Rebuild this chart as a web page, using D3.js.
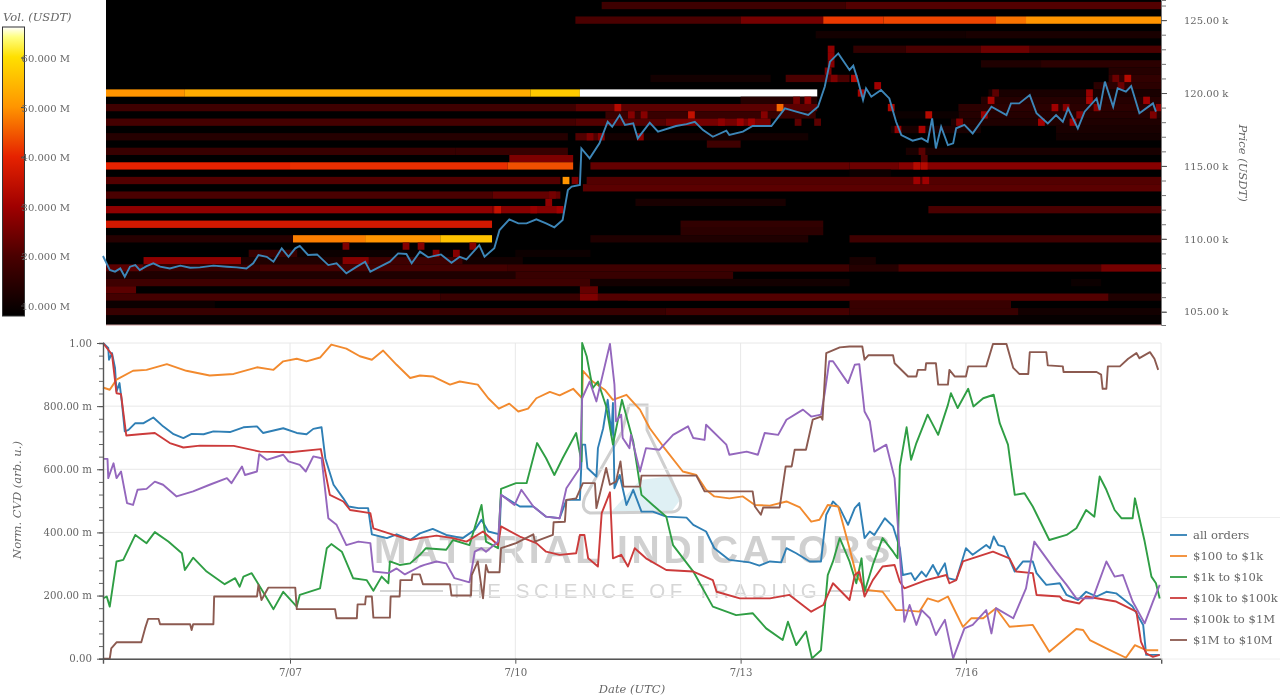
<!DOCTYPE html>
<html><head><meta charset="utf-8">
<script src="https://cdnjs.cloudflare.com/ajax/libs/d3/7.8.5/d3.min.js"></script>
<style>html,body{margin:0;padding:0;background:#fff;overflow:hidden}svg{display:block;filter:blur(0.75px)}text{font-family:"DejaVu Serif",serif}</style>
</head><body><svg id="c" width="1280" height="695"></svg>
<script>
const seriesNames = ["all orders","$100 to $1k","$1k to $10k","$10k to $100k","$100k to $1M","$1M to $10M"];
const seriesColors = ["#2f7fb5","#f28a2e","#2f9e44","#cc3b3b","#9467bd","#8c5a50"];
const dayTicks = [7,10,13,16];
const dayTickLabels = ["7/07","7/10","7/13","7/16"];
const cvdMajor = [0,200,400,600,800,1000];
const cvdTickLabels = ["0.00","200.00 m","400.00 m","600.00 m","800.00 m","1.00"];
const priceMajor = [105,110,115,120,125];
const priceTickLabels = ["105.00 k","110.00 k","115.00 k","120.00 k","125.00 k"];
const volTicks = [10,20,30,40,50,60];
const volTickLabels = ["10.000 M","20.000 M","30.000 M","40.000 M","50.000 M","60.000 M"];

const allOrders = [[4.51,1000],[4.58,984],[4.59,947],[4.63,968],[4.67,921],[4.69,847],[4.73,873],[4.76,815],[4.80,720],[4.85,725],[4.94,746],[5.05,746],[5.18,764],[5.31,736],[5.45,711],[5.58,699],[5.69,712],[5.85,711],[5.98,720],[6.20,718],[6.38,733],[6.56,736],[6.64,715],[6.91,730],[7.09,715],[7.22,711],[7.31,728],[7.42,733],[7.47,635],[7.51,604],[7.58,551],[7.71,508],[7.78,482],[7.91,477],[8.04,477],[8.09,394],[8.29,382],[8.42,394],[8.60,376],[8.73,397],[8.90,411],[9.08,392],[9.30,382],[9.46,408],[9.55,440],[9.64,403],[9.79,394],[9.81,519],[10.06,482],[10.24,482],[10.41,450],[10.59,445],[10.68,503],[10.86,503],[10.89,678],[10.93,678],[10.96,604],[11.08,577],[11.10,667],[11.17,730],[11.23,820],[11.28,709],[11.30,810],[11.32,540],[11.39,582],[11.48,487],[11.57,535],[11.68,466],[11.83,466],[12.01,450],[12.28,447],[12.37,424],[12.54,403],[12.65,350],[12.85,313],[13.12,305],[13.25,295],[13.39,308],[13.54,305],[13.61,350],[13.74,334],[13.92,308],[14.07,308],[14.14,456],[14.23,498],[14.32,477],[14.43,424],[14.52,477],[14.58,493],[14.65,382],[14.72,403],[14.78,392],[14.92,445],[15.03,419],[15.12,350],[15.16,265],[15.27,271],[15.32,249],[15.41,276],[15.47,260],[15.56,297],[15.63,265],[15.72,302],[15.76,255],[15.87,249],[16.00,350],[16.09,329],[16.27,360],[16.32,350],[16.37,387],[16.43,360],[16.51,355],[16.65,276],[16.76,308],[16.89,308],[16.94,271],[17.07,234],[17.25,239],[17.34,202],[17.49,186],[17.60,212],[17.74,197],[17.87,212],[18.00,207],[18.22,165],[18.36,107],[18.40,12],[18.58,12]];
const orders100to1k = [[4.51,859],[4.60,852],[4.69,884],[4.91,912],[5.09,915],[5.36,933],[5.62,912],[5.93,897],[6.25,902],[6.56,923],[6.78,915],[6.91,942],[7.09,950],[7.22,942],[7.40,954],[7.55,995],[7.75,982],[7.93,958],[8.09,947],[8.24,976],[8.42,931],[8.60,889],[8.73,897],[8.90,894],[9.13,868],[9.26,878],[9.50,868],[9.64,825],[9.78,792],[9.92,808],[10.04,783],[10.17,792],[10.28,825],[10.46,845],[10.59,834],[10.77,855],[10.89,825],[10.90,912],[11.03,878],[11.19,852],[11.30,820],[11.48,836],[11.66,789],[11.79,730],[11.97,672],[12.23,593],[12.41,582],[12.54,535],[12.65,514],[12.85,508],[13.03,514],[13.19,487],[13.39,485],[13.61,498],[13.79,479],[13.94,434],[14.05,440],[14.16,487],[14.30,482],[14.45,350],[14.54,265],[14.67,218],[14.89,212],[15.07,154],[15.16,154],[15.38,149],[15.49,191],[15.63,181],[15.76,197],[15.96,101],[16.07,128],[16.23,128],[16.40,160],[16.58,101],[16.89,107],[17.11,22],[17.47,94],[17.56,91],[17.65,59],[17.87,33],[18.13,3],[18.25,43],[18.40,27],[18.56,27]];
const orders1kto10k = [[4.51,191],[4.56,197],[4.60,165],[4.69,308],[4.78,313],[4.94,392],[5.09,366],[5.20,401],[5.38,371],[5.56,334],[5.60,281],[5.71,320],[5.89,276],[6.13,236],[6.27,255],[6.33,228],[6.38,260],[6.49,271],[6.64,212],[6.78,157],[6.91,212],[7.09,165],[7.13,202],[7.40,223],[7.49,350],[7.55,363],[7.69,339],[7.84,255],[8.02,249],[8.11,215],[8.22,260],[8.31,239],[8.33,308],[8.46,297],[8.60,302],[8.73,329],[8.81,350],[9.08,345],[9.17,376],[9.39,360],[9.55,487],[9.61,371],[9.77,350],[9.81,538],[10.01,556],[10.15,556],[10.29,683],[10.41,635],[10.52,582],[10.63,635],[10.81,715],[10.88,625],[10.89,1000],[10.95,958],[11.03,857],[11.10,878],[11.21,799],[11.30,678],[11.42,820],[11.57,688],[11.68,519],[11.83,487],[12.01,450],[12.10,360],[12.37,276],[12.63,165],[12.94,138],[13.16,144],[13.34,96],[13.56,59],[13.63,117],[13.74,43],[13.87,86],[13.95,1],[14.07,27],[14.16,265],[14.23,308],[14.32,382],[14.45,308],[14.54,239],[14.61,318],[14.65,212],[14.76,297],[14.89,382],[15.03,339],[15.09,318],[15.12,609],[15.21,733],[15.27,630],[15.34,683],[15.49,773],[15.63,709],[15.76,804],[15.80,841],[15.89,794],[16.03,855],[16.10,799],[16.23,825],[16.37,836],[16.45,746],[16.56,678],[16.65,519],[16.78,524],[16.89,482],[17.11,376],[17.34,392],[17.47,413],[17.60,471],[17.71,450],[17.78,577],[17.87,535],[17.98,471],[18.07,445],[18.22,445],[18.25,508],[18.38,371],[18.47,260],[18.53,239],[18.58,191]];
const orders10kto100k = [[4.51,1000],[4.63,963],[4.69,841],[4.75,838],[4.82,707],[5.00,711],[5.20,715],[5.40,683],[5.58,669],[5.80,675],[6.25,674],[6.60,656],[7.00,654],[7.41,664],[7.53,519],[7.71,498],[7.80,471],[8.07,461],[8.11,413],[8.38,392],[8.60,376],[8.73,382],[8.95,390],[9.17,382],[9.35,371],[9.57,403],[9.77,360],[9.81,419],[10.06,387],[10.28,366],[10.41,339],[10.59,329],[10.81,334],[10.86,392],[10.92,392],[10.97,318],[11.10,292],[11.15,461],[11.26,527],[11.30,318],[11.41,329],[11.50,292],[11.59,350],[11.74,318],[12.01,281],[12.37,276],[12.63,249],[12.68,212],[12.99,191],[13.39,191],[13.65,202],[13.94,149],[14.10,170],[14.23,239],[14.45,186],[14.52,265],[14.58,276],[14.65,197],[14.76,249],[14.89,292],[15.05,297],[15.12,244],[15.18,223],[15.47,249],[15.74,265],[15.78,239],[15.87,249],[15.96,308],[16.36,339],[16.58,318],[16.67,276],[16.89,271],[16.94,202],[17.25,197],[17.29,186],[17.51,175],[17.60,197],[18.00,181],[18.27,149],[18.33,54],[18.40,17],[18.49,6],[18.58,12]];
const orders100kto1M = [[4.51,633],[4.57,633],[4.58,572],[4.65,619],[4.69,572],[4.75,593],[4.83,493],[4.91,487],[4.97,535],[5.09,538],[5.20,561],[5.31,551],[5.49,514],[5.71,530],[5.93,551],[6.16,572],[6.22,556],[6.36,609],[6.40,582],[6.56,593],[6.59,648],[6.69,630],[6.91,646],[6.98,625],[7.13,614],[7.21,593],[7.31,641],[7.42,635],[7.51,445],[7.62,424],[7.75,360],[7.91,371],[8.07,366],[8.11,276],[8.31,271],[8.42,286],[8.53,267],[8.73,292],[8.79,297],[8.95,308],[9.08,302],[9.19,255],[9.39,242],[9.46,339],[9.55,350],[9.61,339],[9.77,371],[9.81,519],[9.99,487],[10.08,535],[10.24,482],[10.41,450],[10.59,445],[10.68,540],[10.86,604],[10.89,825],[10.99,878],[11.08,815],[11.26,997],[11.32,868],[11.34,752],[11.41,773],[11.43,699],[11.52,667],[11.54,709],[11.66,593],[11.74,667],[11.92,662],[12.10,709],[12.30,736],[12.37,699],[12.52,693],[12.54,741],[12.81,678],[12.85,646],[13.08,656],[13.23,646],[13.32,715],[13.50,709],[13.61,757],[13.83,789],[13.94,767],[14.07,773],[14.12,841],[14.18,942],[14.23,942],[14.43,873],[14.52,931],[14.58,933],[14.65,783],[14.72,752],[14.78,656],[14.94,678],[15.05,572],[15.09,434],[15.18,117],[15.25,170],[15.34,107],[15.41,154],[15.52,128],[15.60,75],[15.72,123],[15.83,1],[15.98,96],[16.09,107],[16.27,154],[16.34,80],[16.40,160],[16.63,128],[16.80,223],[16.91,371],[17.20,276],[17.34,234],[17.47,191],[17.69,191],[17.87,308],[17.98,260],[18.09,265],[18.22,181],[18.38,112],[18.49,181],[18.58,234]];
const orders1Mto10M = [[4.51,0],[4.60,0],[4.62,33],[4.69,52],[5.02,52],[5.07,96],[5.11,126],[5.25,126],[5.27,109],[5.67,109],[5.69,91],[5.71,109],[5.98,109],[5.99,197],[6.56,197],[6.58,234],[6.62,186],[6.71,225],[7.07,225],[7.09,157],[7.60,157],[7.62,128],[7.89,128],[7.90,172],[8.00,172],[8.01,197],[8.09,197],[8.11,130],[8.33,130],[8.34,197],[8.46,197],[8.47,249],[8.62,249],[8.63,267],[8.73,267],[8.77,236],[9.13,236],[9.15,200],[9.41,200],[9.42,265],[9.50,308],[9.57,191],[9.61,297],[9.64,274],[9.79,274],[9.81,350],[10.01,366],[10.24,394],[10.26,371],[10.50,392],[10.51,432],[10.66,434],[10.68,503],[10.81,508],[10.90,556],[11.06,556],[11.08,477],[11.21,604],[11.26,551],[11.34,561],[11.40,625],[11.44,545],[11.66,545],[11.68,580],[12.41,580],[12.52,530],[13.16,530],[13.19,482],[13.27,456],[13.30,479],[13.52,479],[13.60,609],[13.68,609],[13.72,662],[13.87,662],[13.96,757],[14.07,767],[14.09,757],[14.14,968],[14.32,986],[14.45,989],[14.62,989],[14.65,947],[14.70,961],[15.03,961],[15.05,936],[15.23,894],[15.34,894],[15.36,915],[15.46,915],[15.47,936],[15.60,936],[15.63,868],[15.76,868],[15.78,915],[15.85,894],[16.00,894],[16.03,926],[16.27,926],[16.36,997],[16.54,997],[16.63,921],[16.71,902],[16.83,902],[16.85,971],[17.07,971],[17.09,929],[17.29,926],[17.30,908],[17.74,908],[17.80,900],[17.82,855],[17.87,855],[17.89,926],[18.05,926],[18.16,950],[18.27,968],[18.31,952],[18.45,971],[18.51,950],[18.56,915]];
const cvdSeries = [allOrders,orders100to1k,orders1kto10k,orders10kto100k,orders100kto1M,orders1Mto10M];

const priceLine = [[4.51,108.82],[4.60,107.86],[4.67,107.75],[4.74,107.97],[4.80,107.40],[4.87,108.09],[4.94,108.20],[5.00,107.86],[5.09,108.13],[5.18,108.32],[5.27,108.09],[5.40,107.97],[5.54,108.16],[5.67,108.02],[5.80,108.04],[5.98,108.16],[6.16,108.09],[6.29,108.04],[6.42,107.97],[6.51,108.32],[6.58,108.89],[6.69,108.77],[6.78,108.43],[6.89,109.35],[6.98,108.77],[7.07,109.35],[7.13,109.51],[7.24,108.89],[7.36,108.93],[7.51,108.20],[7.62,108.32],[7.75,107.63],[7.89,108.09],[8.00,108.43],[8.07,107.75],[8.20,108.09],[8.33,108.43],[8.44,109.00],[8.55,108.96],[8.62,108.32],[8.73,109.12],[8.84,108.73],[9.01,108.93],[9.15,108.36],[9.26,108.77],[9.35,108.59],[9.52,109.57],[9.59,108.77],[9.72,109.35],[9.79,110.60],[9.92,111.34],[10.04,111.06],[10.15,111.06],[10.28,111.34],[10.41,111.06],[10.52,110.79],[10.63,111.29],[10.70,113.35],[10.75,113.58],[10.86,113.69],[10.88,116.20],[10.99,115.52],[11.12,116.55],[11.23,118.03],[11.29,117.69],[11.39,118.49],[11.46,117.81],[11.57,117.92],[11.63,116.89],[11.79,117.97],[11.90,117.35],[12.14,117.74],[12.28,117.87],[12.39,118.03],[12.50,117.46],[12.63,117.00],[12.81,117.42],[12.85,117.12],[13.03,117.35],[13.16,117.74],[13.41,117.74],[13.59,118.95],[13.74,118.72],[13.90,118.49],[14.03,119.06],[14.12,120.43],[14.19,122.15],[14.30,122.72],[14.45,121.58],[14.50,121.87],[14.56,120.89],[14.63,119.52],[14.67,120.32],[14.74,119.75],[14.87,120.21],[14.98,119.63],[15.07,118.03],[15.14,117.12],[15.29,116.73],[15.41,116.89],[15.49,116.66],[15.55,118.26],[15.60,116.20],[15.67,117.69],[15.76,116.43],[15.83,116.55],[15.87,117.58],[15.98,117.81],[16.09,117.23],[16.20,118.03],[16.34,119.06],[16.54,118.49],[16.60,119.29],[16.71,119.29],[16.85,119.86],[16.94,118.61],[17.09,117.92],[17.20,118.49],[17.29,118.03],[17.36,118.95],[17.49,117.58],[17.58,118.72],[17.74,119.63],[17.78,118.83],[17.85,120.78],[17.96,119.06],[18.02,120.32],[18.13,120.09],[18.20,120.48],[18.31,118.61],[18.49,119.29],[18.53,118.72]];

// heat bands: price, first day, last day, volume (M USDT)
const heatBands = [
[126,11.15,14.4,18],[126,14.4,18.62,21],
[125,10.8,13.0,20],[125,13.0,14.1,25],[125,14.1,14.9,42],[125,14.9,16.4,43],[125,16.4,16.8,47],[125,16.8,18.62,50],
[124,14.0,16.0,11],[124,16.0,18.62,12],
[123,14.5,15.2,16],[123,15.2,16.2,20],[123,16.2,16.85,24],[123,16.85,18.62,20],
[122,16.2,17.0,13],[122,17.0,18.62,15],
[121.5,17.9,18.62,14],[121,17.9,18.62,16],[120.5,17.7,18.62,15],
[121,11.8,13.4,11],[121,13.6,14.45,20],
[120,4.55,5.6,50],[120,5.6,10.2,53],[120,10.2,10.86,57],[120,10.86,14.02,70],
[120,16.3,18.62,12],[119.5,13,14.02,14],[119.5,16.2,18.62,14],
[119,4.55,10.8,18],[119,10.8,14.02,22],[119,15.9,18.62,15],
[118.5,11.2,14.0,17],[118.5,15.9,18.62,14],[118.5,15,15.9,10],
[118,4.55,10.8,19],[118,10.8,12,21],[118,12,13.4,25],[118,15.8,18.62,13],[117.5,15,16.2,12],[117.5,17.2,18.62,12],[117,17.2,18.62,11],
[117,4.55,10.7,14],[117,10.8,11.15,21],[117,11.15,13.9,11],[116.5,12.55,13.0,18],[116,15.2,18.62,12],
[116,4.55,9.2,17],[116,9.2,10.7,17],[115.5,9.92,10.77,26],
[115,4.55,7.0,40],[115,7.0,9.9,41],[115,9.9,10.77,44],[115,11.0,14.45,23],[115,14.45,15.1,24],[115,15.1,18.62,27],
[114.5,14.45,15.0,10],
[114,4.55,10.6,21],[114,10.95,18.62,21],[113.5,10.9,18.62,22],
[113,4.55,9.7,20],[113,9.7,10.6,23],
[112.5,11.6,13.6,12],
[112,4.55,9.7,28],[112,9.7,10.6,27],[112,15.5,18.62,20],
[111,4.55,9.69,37],[111,12.2,14.1,16],[110.5,12.2,14.1,15],
[110,4.55,7.04,14],[110,7.04,8.0,48],[110,8.0,9.0,50],[110,9.0,9.69,56],[110,11.0,13.9,13],[110,14.45,18.62,18],
[109,6.45,7.1,17],[109,7.1,9.6,10],[109,10.0,11.0,10],
[108.5,5.05,6.35,28],[108.5,6.35,7.7,13],[108.5,7.7,8.05,27],[108.5,8.05,9.3,18],[108.5,9.3,10.1,11],[108.5,14.45,14.8,12],
[108,4.55,5.05,22],[108,5.05,6.6,17],[108,6.6,9.9,19],[108,9.9,14.45,18],[108,14.45,15.1,14],[108,15.1,17.8,20],[108,17.8,18.62,25],
[107.5,4.55,10.0,13],[107.5,10.0,12.9,17],
[107,4.55,11.0,18],[107,11.0,14.45,11],[107,17.4,17.8,10],
[106.5,4.55,4.95,22],[106.5,10.86,11.1,23],
[106,4.55,9.0,19],[106,9.0,10.86,17],[106,10.86,11.1,26],[106,11.1,17.9,21],[106,17.9,18.62,13],
[105.5,4.55,6.0,10],[105.5,9.0,11.5,8],[105.5,14.45,16.6,17],
[105,4.55,12.0,17],[105,12.0,14.45,19],[105,14.45,16.7,17],[105,16.7,18.62,11],
[104.5,4.55,18.62,9]
];
// single bright cells next to the price: price, day, volume
const heatCells = [
[109.5,7.7,26],[109.5,8.5,27],[109.5,8.7,27],[109,8.9,27],[109.5,9.39,27],[109,9.17,27],[112,9.72,35],
[112,10.2,29],[112.5,10.4,28],[112,10.55,30],[113,10.45,25],[114,10.63,50],[114,10.75,26],
[117,10.95,26],[117,11.1,27],[119,11.32,33],[118.5,11.5,27],[118.5,11.67,27],[117,11.62,28],[118.5,12.3,35],
[118,12.7,28],[118,12.95,30],[118,13.1,30],[119,13.48,46],[118.5,13.27,27],[119.5,13.7,25],[119.5,13.85,28],
[118,13.72,22],[118,13.98,22],[123,14.16,28],[122.5,14.16,28],[122,14.16,27],[121.5,14.12,26],[121,14.2,26],
[121,14.47,32],[120,14.56,31],[120.5,14.78,30],[119,14.96,32],[117.5,15.05,29],[118.5,15.46,33],[117.5,15.37,31],
[116,15.37,22],[115.5,15.4,21],[115,15.3,33],[115,15.4,33],[114,15.3,30],[114,15.42,30],
[118,15.87,27],[118.5,16.2,29],[119.5,16.29,31],[120,16.35,22],[118,16.96,30],[119,17.14,30],[119,17.29,27],[118,17.38,30],
[118.5,17.47,27],[120,17.6,29],[119.5,17.6,31],[119,17.7,27],[121,18.11,33],[121,17.95,24],[120.5,18.02,24],[119.5,18.36,30],[119,18.53,28],[118.5,18.45,26]
];
const cellDays = 0.09;
const volStops = [8,20,30,40,50,60,64,66];
const volColors = ["#000000","#4a0000","#a00000","#e62200","#ff9500","#ffe000","#ffff80","#ffffff"];

// watermark strings
const wmTitle = "MATERIAL INDICATORS";
const wmSub = "THE SCIENCE OF TRADING";

const svg = d3.select("#c");
const ink = "#666";
const x = d3.scaleLinear([4.51,18.6],[103,1161.2]);
const yP = d3.scaleLinear([104.09,126.38],[325,0]);
const yC = d3.scaleLinear([0,1000],[658.7,343]);
const color = d3.scaleLinear(volStops,volColors).clamp(true);
const yV = d3.scaleLinear([10,60],[306,58]);

// ---- top panel
svg.append("clipPath").attr("id","hc").append("rect").attr("x",106).attr("y",0).attr("width",1055).attr("height",325);
const heat = svg.append("g").attr("clip-path","url(#hc)");
heat.append("rect").attr("x",106).attr("y",0).attr("width",1055).attr("height",325).attr("fill","#000");
const rowH = Math.abs(yP(0.5)-yP(0));
heat.selectAll(".band").data(heatBands).join("rect").attr("class","band")
  .attr("x",d=>x(d[1])).attr("width",d=>x(d[2])-x(d[1]))
  .attr("y",d=>yP(d[0])-rowH/2).attr("height",rowH).attr("fill",d=>color(d[3]));
heat.selectAll(".cell").data(heatCells).join("rect").attr("class","cell")
  .attr("x",d=>x(d[1])).attr("width",x(cellDays)-x(0))
  .attr("y",d=>yP(d[0])-rowH/2).attr("height",rowH).attr("fill",d=>color(d[2]));
svg.append("line").attr("x1",106).attr("x2",1161).attr("y1",325).attr("y2",325).attr("stroke","#c99").attr("stroke-width",1);
svg.append("path").datum(priceLine).attr("fill","none").attr("stroke","#3d86b8").attr("stroke-width",1.9)
  .attr("d",d3.line().x(d=>x(d[0])).y(d=>yP(d[1])));

const pAxis = d3.axisRight(yP).tickValues(d3.range(105,127)).tickSize(5).tickFormat(()=>"");
const pg = svg.append("g").attr("transform","translate(1161,0)").call(pAxis);
pg.select(".domain").attr("stroke","#777").attr("stroke-width",1);
pg.selectAll("line").attr("stroke","#777");
const pmaj = svg.append("g").attr("transform","translate(1161,0)").call(d3.axisRight(yP).tickValues(priceMajor).tickSize(6).tickPadding(17).tickFormat((d,i)=>priceTickLabels[i]));
pmaj.select(".domain").remove();
pmaj.selectAll("line").attr("stroke","#555");
pmaj.selectAll("text").attr("fill",ink).attr("font-size",10).attr("font-family","DejaVu Serif");
svg.append("text").attr("transform","translate(1239,163) rotate(90)").attr("text-anchor","middle")
  .attr("font-style","italic").attr("font-size",11.5).attr("fill",ink).text("Price (USDT)");

// ---- colour bar
const grad = svg.append("defs").append("linearGradient").attr("id","vg").attr("x1",0).attr("x2",0).attr("y1",1).attr("y2",0);
grad.selectAll("stop").data(volStops).join("stop")
  .attr("offset",d=>(d-8)/(66-8)).attr("stop-color",(d,i)=>volColors[i]);
svg.append("rect").attr("x",2.5).attr("y",27).attr("width",22).attr("height",289).attr("fill","url(#vg)").attr("stroke","#333").attr("stroke-width",1);
svg.selectAll(".vt").data(volTicks).join("line").attr("class","vt").attr("x1",21).attr("x2",25)
  .attr("y1",d=>yV(d)).attr("y2",d=>yV(d)).attr("stroke","#444");
svg.selectAll(".vl").data(volTicks).join("text").attr("class","vl").attr("x",70).attr("y",d=>yV(d)+4)
  .attr("text-anchor","end").attr("font-size",10).attr("fill",ink).text((d,i)=>volTickLabels[i]);
svg.append("text").attr("x",3).attr("y",21).attr("font-style","italic").attr("font-size",11.5).attr("fill",ink).text("Vol. (USDT)");

// ---- watermark
const wm = svg.append("g");
wm.append("path").attr("d","M612 511 L640 480 L672 476 L680 500 L672 511 Z").attr("fill","#dff0f4");
wm.append("path").attr("d","M629 405 L647 405 L647 430 L680 498 Q683 511 672 512 L590 513 Q580 510 585 497 L622 432 L629 405").attr("fill","none").attr("stroke","#cfcfcf").attr("stroke-width",3);
wm.append("text").attr("x",634).attr("y",563).attr("text-anchor","middle").attr("font-weight","bold")
  .attr("font-size",39).attr("letter-spacing",3.8).attr("fill","#d0d0d0").style("font-family","'Liberation Sans'").text(wmTitle);
wm.append("text").attr("x",636).attr("y",598).attr("text-anchor","middle")
  .attr("font-size",20.5).attr("letter-spacing",4.6).attr("fill","#d6d6d6").style("font-family","'Liberation Sans'").text(wmSub);
wm.append("line").attr("x1",380).attr("x2",443).attr("y1",591).attr("y2",591).attr("stroke","#d6d6d6").attr("stroke-width",2);
wm.append("line").attr("x1",830).attr("x2",890).attr("y1",591).attr("y2",591).attr("stroke","#d6d6d6").attr("stroke-width",2);

// ---- bottom panel
const grid = svg.append("g").attr("stroke","#e8e8e8").attr("stroke-width",1);
grid.selectAll(".gh").data(cvdMajor).join("line").attr("class","gh").attr("x1",103).attr("x2",1161).attr("y1",d=>yC(d)).attr("y2",d=>yC(d));
grid.selectAll(".gv").data(dayTicks).join("line").attr("class","gv").attr("y1",343).attr("y2",659).attr("x1",d=>x(d)).attr("x2",d=>x(d));
grid.append("line").attr("x1",1161).attr("x2",1161).attr("y1",343).attr("y2",659);

const line = d3.line().x(d=>x(d[0])).y(d=>yC(d[1]));
svg.selectAll(".cvd").data(cvdSeries).join("path").attr("class","cvd").attr("fill","none")
  .attr("stroke",(d,i)=>seriesColors[i]).attr("stroke-width",1.9).attr("stroke-linejoin","round").attr("d",line);

const cMin = svg.append("g").attr("transform","translate(103,0)").call(d3.axisLeft(yC).tickValues(d3.range(0,1001,40)).tickSize(4).tickFormat(()=>""));
cMin.select(".domain").attr("stroke","#555").attr("stroke-width",1.4);
cMin.selectAll("line").attr("stroke","#666");
const cMaj = svg.append("g").attr("transform","translate(103,0)").call(d3.axisLeft(yC).tickValues(cvdMajor).tickSize(6).tickPadding(5).tickFormat((d,i)=>cvdTickLabels[i]));
cMaj.select(".domain").remove();
cMaj.selectAll("line").attr("stroke","#555");
cMaj.selectAll("text").attr("fill",ink).attr("font-size",10.2).attr("font-family","DejaVu Serif");
const xA = svg.append("g").attr("transform","translate(0,658.7)").call(d3.axisBottom(x).tickValues(dayTicks).tickSize(5).tickPadding(5).tickFormat((d,i)=>dayTickLabels[i]));
xA.select(".domain").attr("stroke","#555").attr("stroke-width",1.4);
xA.selectAll("line").attr("stroke","#555");
xA.selectAll("text").attr("fill",ink).attr("font-size",10.2).attr("font-family","DejaVu Serif");
svg.append("text").attr("transform","translate(21,500) rotate(-90)").attr("text-anchor","middle")
  .attr("font-style","italic").attr("font-size",11.5).attr("fill",ink).text("Norm. CVD (arb. u.)");
svg.append("text").attr("x",632).attr("y",693).attr("text-anchor","middle")
  .attr("font-style","italic").attr("font-size",11.5).attr("fill",ink).text("Date (UTC)");

// ---- legend
svg.append("line").attr("x1",1161).attr("x2",1280).attr("y1",517.5).attr("y2",517.5).attr("stroke","#eee");
svg.append("line").attr("x1",1161).attr("x2",1280).attr("y1",659).attr("y2",659).attr("stroke","#eee");
const lg = svg.selectAll(".lg").data(seriesNames).join("g").attr("class","lg").attr("transform",(d,i)=>`translate(1170,${535+i*21})`);
lg.append("line").attr("x1",0).attr("x2",17).attr("stroke",(d,i)=>seriesColors[i]).attr("stroke-width",1.8);
lg.append("text").attr("x",23).attr("y",4).attr("font-size",11.6).attr("fill",ink).text(d=>d);
</script></body></html>
